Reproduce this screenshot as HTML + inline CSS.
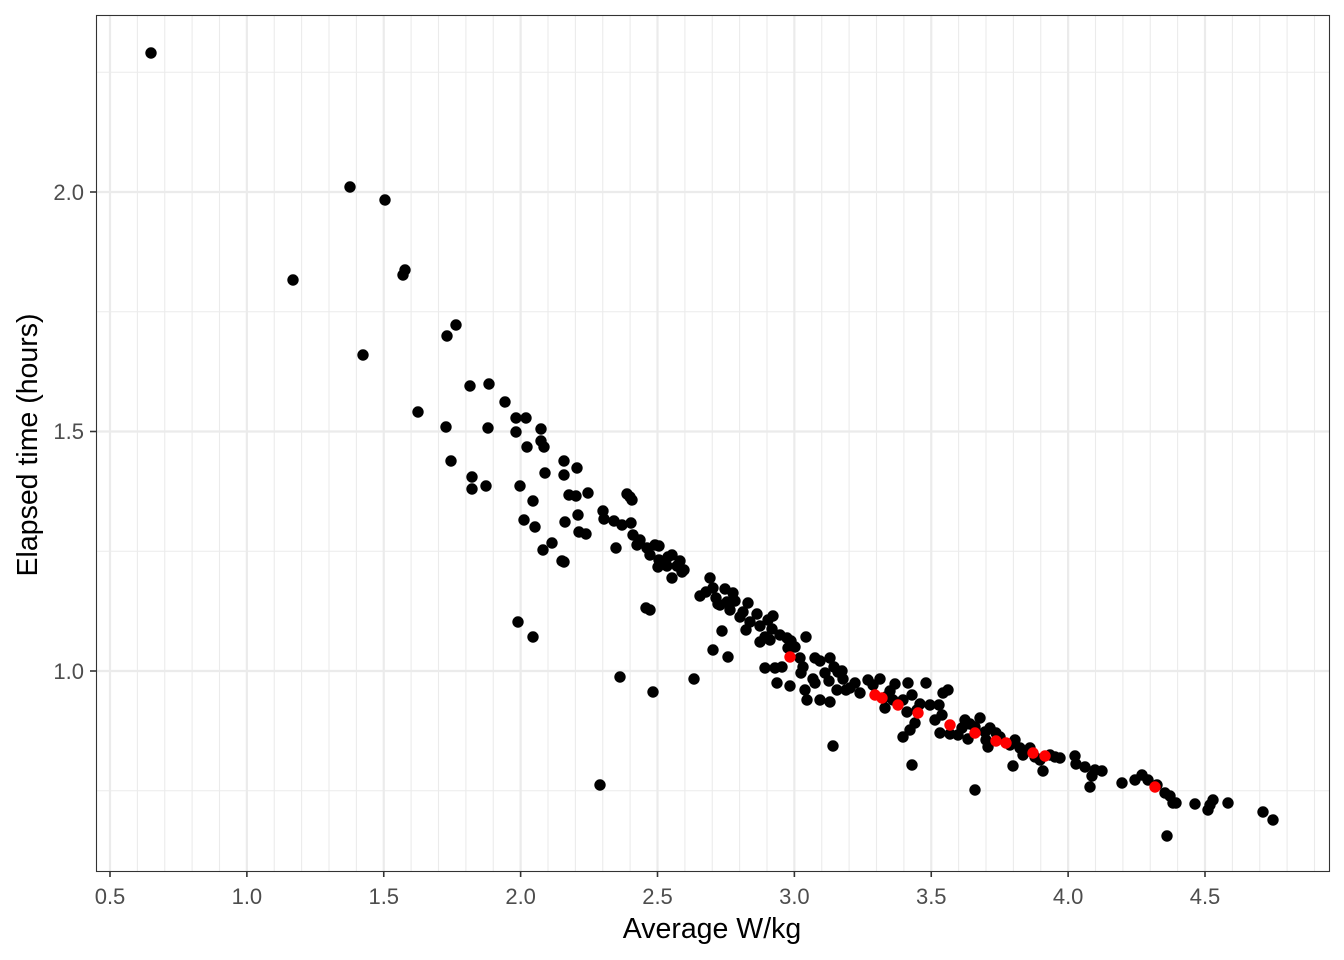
<!DOCTYPE html>
<html><head><style>body{margin:0;background:#fff}svg{display:block}</style></head><body>
<svg width="1344" height="960" xmlns="http://www.w3.org/2000/svg" font-family="Liberation Sans, sans-serif">
<rect width="1344" height="960" fill="#fff"/>
<g id="grid"></g>
<g id="pts"></g>
<rect x="96.5" y="15.5" width="1233" height="856" fill="none" stroke="#333" stroke-width="1.1"/>
<g fill="#4d4d4d" font-size="22" text-anchor="end">
<text x="84" y="200">2.0</text><text x="84" y="439">1.5</text><text x="84" y="679">1.0</text>
</g>
<g fill="#4d4d4d" font-size="22" text-anchor="middle" id="xl"></g>
<text x="712" y="938" font-size="28.5" text-anchor="middle" fill="#000">Average W/kg</text>
<text transform="translate(37,445) rotate(-90)" font-size="28.5" text-anchor="middle" fill="#000">Elapsed time (hours)</text>
<script>
var ns="http://www.w3.org/2000/svg";
function el(p,t,a){var e=document.createElementNS(ns,t);for(var k in a)e.setAttribute(k,a[k]);p.appendChild(e);return e;}
var g=document.getElementById('grid');
function X(v){return 110+(v-0.5)*273.75;}
function Y(v){return 671-(v-1)*479;}
for(var i=0;i<=45;i++){var v=0.5+i*0.1;var x=X(v);if(x<97||x>1329)continue;var maj=(i%5==0);
el(g,'line',{x1:x,x2:x,y1:15,y2:871,stroke:'#ebebeb','stroke-width':maj?2.2:1.1});}
[0.75,1.25,1.75,2.25].forEach(function(v){el(g,'line',{x1:96,x2:1329,y1:Y(v),y2:Y(v),stroke:'#ebebeb','stroke-width':1.1});});
[1,1.5,2].forEach(function(v){el(g,'line',{x1:96,x2:1329,y1:Y(v),y2:Y(v),stroke:'#ebebeb','stroke-width':2.2});
el(g,'line',{x1:90,x2:96,y1:Y(v),y2:Y(v),stroke:'#333','stroke-width':1.6});});
var xl=document.getElementById('xl');
for(var j=0;j<9;j++){var v=0.5+j*0.5,x=X(v);el(g,'line',{x1:x,x2:x,y1:871,y2:877,stroke:'#333','stroke-width':1.6});var t=el(xl,'text',{x:x,y:904});t.textContent=v.toFixed(1);}
var P=[[151,53],[350,187],[385,200],[293,280],[405,270],[403,275],[363,355],[447,336],[456,325],[418,412],[446,427],[451,461],[470,386],[489,384],[472,477],[472,489],[486,486],[505,402],[488,428],[516,418],[516,432],[526,418],[527,447],[520,486],[544,447],[541,429],[541,441],[545,473],[533,501],[535,527],[524,520],[543,550],[552,543],[564,461],[564,475],[569,495],[576,496],[577,468],[565,522],[578,515],[579,532],[586,534],[588,493],[562,561],[564,562],[603,511],[604,519],[614,521],[616,548],[622,525],[627,494],[630,497],[631,523],[632,500],[633,535],[637,545],[640,540],[647,548],[655,545],[650,555],[659,560],[659,546],[658,567],[668,557],[667,566],[672,578],[677,566],[682,572],[680,561],[684,570],[672,555],[518,622],[533,637],[646,608],[650,610],[620,677],[653,692],[694,679],[600,785],[710,578],[713,588],[700,596],[706,592],[716,598],[718,604],[725,589],[720,605],[727,602],[733,593],[730,610],[735,601],[743,612],[748,603],[740,617],[746,630],[722,631],[713,650],[728,657],[750,622],[760,626],[757,614],[768,620],[772,629],[765,637],[773,616],[760,642],[765,668],[775,668],[770,640],[780,635],[787,638],[777,683],[782,667],[791,641],[788,648],[795,647],[806,637],[800,658],[803,667],[790,686],[801,673],[805,690],[813,679],[807,700],[820,700],[830,702],[815,658],[820,661],[825,673],[815,683],[830,658],[834,667],[838,672],[842,671],[829,681],[843,679],[846,690],[850,688],[837,690],[855,683],[860,693],[868,680],[873,685],[880,679],[886,697],[890,691],[895,684],[893,700],[885,708],[903,700],[908,683],[912,695],[917,710],[907,712],[920,704],[910,730],[903,737],[915,723],[926,683],[930,705],[939,705],[942,715],[935,720],[943,693],[948,690],[940,733],[833,746],[912,765],[950,734],[958,735],[962,728],[965,720],[970,724],[975,727],[968,739],[980,718],[985,732],[986,740],[990,728],[996,733],[988,747],[1000,737],[1010,745],[1015,740],[1020,748],[1013,766],[1023,755],[1030,748],[1035,757],[1040,760],[1043,771],[1050,755],[1055,757],[1060,758],[1075,756],[1076,764],[1085,767],[1095,770],[1102,771],[1092,776],[1090,787],[1122,783],[1135,780],[1142,775],[1148,780],[1157,785],[1165,793],[1170,796],[1173,803],[1176,803],[1195,804],[1208,810],[1210,805],[1213,800],[1228,803],[1263,812],[1273,820],[1167,836],[975,790]];
var R=[[790,657],[875,695],[882,698],[898,705],[918,713],[950,725],[975,733],[996,741],[1006,743],[1033,753],[1045,756],[1155,787]];
var pg=document.getElementById('pts');
P.forEach(function(p){el(pg,'circle',{cx:p[0],cy:p[1],r:5.7,fill:'#000'});});
R.forEach(function(p){el(pg,'circle',{cx:p[0],cy:p[1],r:5.7,fill:'#ff0000'});});
</script>
</svg>
</body></html>
